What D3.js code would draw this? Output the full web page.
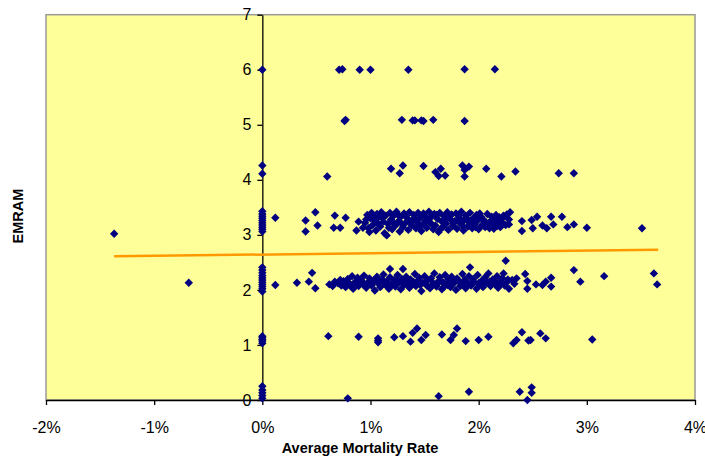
<!DOCTYPE html>
<html>
<head>
<meta charset="utf-8">
<script src="https://cdn.jsdelivr.net/npm/d3@7"></script>
<style>
  body { margin: 0; background: #fff; }
  text { font-family: "Liberation Sans", Arial, sans-serif; }
</style>
</head>
<body>
<div id="chart"></div>
<script>
// x = average mortality rate (%), y = EMRAM stage (jittered)
let zeroRate = [0.03,0.08,0.13,0.18,0.25,1.03,1.07,1.10,1.13,1.16,
    1.97,2.02,2.06,2.10,2.14,2.18,2.22,2.26,2.31,2.36,2.41,
    3.06,3.10,3.14,3.18,3.22,3.26,3.30,3.34,3.38,3.43,4.11,4.26,6.00];

let stage0 = [[0.79,0.03],[1.63,0.07],[1.91,0.15],[2.38,0.15],[2.45,0.00],[2.49,0.23],[2.49,0.13]];

let stage1 = [[0.61,1.16],[0.89,1.15],[1.07,1.12],[1.07,1.08],[1.07,1.05],[1.22,1.14],[1.30,1.16],
    [1.37,1.06],[1.39,1.22],[1.43,1.30],[1.47,1.09],[1.51,1.18],[1.66,1.19],[1.74,1.09],[1.77,1.18],
    [1.80,1.30],[1.88,1.07],[2.00,1.09],[2.09,1.15],[2.32,1.03],[2.35,1.09],[2.40,1.23],[2.46,1.08],
    [2.48,1.09],[2.57,1.21],[2.62,1.12],[3.05,1.10]];

let stage2 = [[-0.68,2.13],[0.12,2.09],[0.32,2.13],[0.43,2.15],[0.46,2.31],[0.49,2.03],[0.62,2.10],
    [0.67,2.15],[0.65,2.07],[1.18,2.38],[1.30,2.38],[1.92,2.41],[2.25,2.53],[2.23,2.30],[2.43,2.29],
    [2.45,2.16],[2.45,2.02],[2.35,2.21],[2.53,2.10],[2.59,2.09],[2.62,2.15],[2.67,2.22],[2.67,2.06],
    [2.88,2.36],[2.94,2.15],[3.16,2.25],[3.62,2.30],[3.65,2.10],
    [0.70,2.12],[0.73,2.08],[0.75,2.16],[0.77,2.05],[0.79,2.20],[0.81,2.11],[0.83,2.25],[0.84,2.02],
    [0.86,2.15],[0.88,2.22],[0.89,2.07],[0.91,2.18],[0.93,2.10],[0.94,2.26],[0.96,2.04],[0.98,2.14],
    [0.99,2.21],[1.01,2.08],[1.03,2.17],[1.04,1.99],[1.06,2.24],[1.07,2.12],[1.09,2.05],[1.11,2.19],
    [1.12,2.28],[1.14,2.09],[1.15,2.15],[1.17,2.02],[1.18,2.23],[1.20,2.11],[1.22,2.18],[1.23,2.06],
    [1.25,2.27],[1.26,2.13],[1.28,2.01],[1.29,2.20],[1.31,2.09],[1.33,2.24],[1.34,2.15],[1.36,2.04],
    [1.37,2.19],[1.39,2.10],[1.41,2.29],[1.42,2.07],[1.44,2.17],[1.45,2.22],[1.47,1.98],[1.48,2.13],
    [1.50,2.25],[1.52,2.08],[1.53,2.18],[1.55,2.03],[1.56,2.21],[1.58,2.12],[1.59,2.30],[1.61,2.06],
    [1.63,2.16],[1.64,2.23],[1.66,2.01],[1.67,2.14],[1.69,2.27],[1.71,2.09],[1.72,2.19],[1.74,2.05],
    [1.75,2.24],[1.77,2.12],[1.79,2.00],[1.80,2.21],[1.82,2.15],[1.83,2.07],[1.85,2.29],[1.87,2.18],
    [1.88,2.03],[1.90,2.12],[1.91,2.25],[1.93,2.08],[1.95,2.20],[1.96,2.14],[1.98,2.02],[1.99,2.27],
    [2.01,2.10],[2.03,2.17],[2.04,2.05],[2.06,2.23],[2.08,2.13],[2.09,2.30],[2.11,2.07],[2.13,2.19],
    [2.15,2.10],[2.17,2.25],[2.18,2.04],[2.20,2.16],[2.22,2.21],[2.24,2.08],[2.26,2.14],[2.28,2.02],
    [2.31,2.18],[2.33,2.11],
    [0.72,2.18],[0.78,2.13],[0.82,2.06],[0.87,2.11],[0.92,2.16],[0.97,2.09],[1.02,2.13],[1.08,2.16],
    [1.13,2.12],[1.19,2.07],[1.24,2.16],[1.30,2.14],[1.35,2.10],[1.40,2.14],[1.46,2.09],[1.51,2.15],
    [1.57,2.08],[1.62,2.11],[1.68,2.06],[1.73,2.14],[1.78,2.17],[1.84,2.11],[1.89,2.08],[1.94,2.15],
    [2.00,2.12],[2.05,2.10],[2.10,2.15],[2.16,2.13],[2.21,2.11],[2.27,2.19]];

let stage3 = [[-1.37,3.02],[0.12,3.31],[0.40,3.26],[0.49,3.41],[0.40,3.06],[0.51,3.17],[0.67,3.35],
    [0.77,3.31],[0.66,3.13],[0.72,3.13],[0.89,3.24],[0.87,3.08],[0.93,3.13],[2.29,3.41],[2.28,3.19],
    [2.40,3.25],[2.40,3.07],[2.49,3.27],[2.50,3.12],[2.54,3.33],[2.59,3.17],[2.63,3.12],[2.67,3.33],
    [2.69,3.19],[2.77,3.33],[2.82,3.14],[2.88,3.19],[3.00,3.13],[3.51,3.12],
    [0.95,3.22],[0.97,3.36],[0.98,3.12],[1.00,3.30],[1.01,3.40],[1.02,3.18],[1.04,3.26],[1.05,3.08],
    [1.06,3.38],[1.08,3.33],[1.09,3.15],[1.10,3.41],[1.12,3.24],[1.13,3.03],[1.14,3.35],[1.15,2.99],
    [1.16,3.20],[1.18,3.40],[1.19,3.28],[1.20,3.10],[1.22,3.36],[1.23,3.17],[1.24,3.42],[1.26,3.25],
    [1.27,3.06],[1.28,3.33],[1.30,3.14],[1.31,3.39],[1.32,3.21],[1.34,3.30],[1.35,3.09],[1.36,3.41],
    [1.38,3.18],[1.39,3.27],[1.40,3.36],[1.42,3.12],[1.43,3.23],[1.44,3.40],[1.46,3.31],[1.47,3.07],
    [1.48,3.19],[1.50,3.35],[1.51,3.26],[1.52,3.13],[1.54,3.42],[1.55,3.22],[1.56,3.32],[1.58,3.10],
    [1.59,3.38],[1.60,3.17],[1.62,3.29],[1.63,3.05],[1.64,3.40],[1.66,3.24],[1.67,3.14],[1.68,3.34],
    [1.70,3.20],[1.71,3.41],[1.72,3.09],[1.74,3.28],[1.75,3.37],[1.76,3.16],[1.78,3.25],[1.79,3.39],
    [1.80,3.11],[1.82,3.31],[1.83,3.21],[1.84,3.42],[1.86,3.08],[1.87,3.27],[1.88,3.35],[1.90,3.15],
    [1.91,3.23],[1.92,3.40],[1.94,3.12],[1.95,3.30],[1.96,3.19],[1.98,3.36],[1.99,3.26],[2.00,3.10],
    [2.02,3.33],[2.03,3.18],[2.04,3.28],[2.06,3.14],[2.07,3.22],[2.08,3.38],[2.10,3.12],[2.11,3.25],
    [2.13,3.20],[2.15,3.29],[2.17,3.16],[2.19,3.32],[2.21,3.24],[2.23,3.35],[2.25,3.18],[2.26,3.37],
    [2.28,3.28],
    [0.96,3.28],[0.99,3.05],[1.03,3.34],[1.07,3.20],[1.11,3.31],[1.17,3.13],[1.21,3.22],[1.25,3.37],
    [1.29,3.20],[1.33,3.35],[1.37,3.24],[1.41,3.30],[1.45,3.16],[1.49,3.39],[1.53,3.28],[1.57,3.19],
    [1.61,3.36],[1.65,3.11],[1.69,3.26],[1.73,3.33],[1.77,3.21],[1.81,3.36],[1.85,3.17],[1.89,3.30],
    [1.93,3.25],[1.97,3.14],[2.01,3.39],[2.05,3.26],[2.09,3.19],[2.12,3.33],[2.14,3.11],[2.16,3.36],
    [2.18,3.22],[2.20,3.14],[2.22,3.30]];

let stage4 = [[0.60,4.06],[1.19,4.20],[1.27,4.12],[1.30,4.26],[1.49,4.25],[1.60,4.14],[1.63,4.07],
    [1.65,4.20],[1.69,4.08],[1.85,4.26],[1.87,4.18],[1.87,4.06],[1.91,4.24],[2.07,4.20],[2.21,4.06],
    [2.34,4.15],[2.74,4.12],[2.88,4.12]];

let stage5 = [[0.76,5.07],[0.77,5.09],[1.29,5.09],[1.39,5.08],[1.41,5.08],[1.47,5.08],[1.49,5.07],
    [1.58,5.09],[1.87,5.07]];

let stage6 = [[0.71,6.00],[0.74,6.01],[0.90,6.00],[1.00,6.00],[1.35,6.00],[1.87,6.01],[2.15,6.01]];

// linear trend line end points
let trendX = [-1.37, 3.66];
let trendY = [2.61, 2.73];

let xTicks = [-2, -1, 0, 1, 2, 3, 4];
let yTicks = [0, 1, 2, 3, 4, 5, 6, 7];

let points = zeroRate.map(v => [0, v])
    .concat(stage0, stage1, stage2, stage3, stage4, stage5, stage6);

let width = 705, height = 460;
let margin = {top: 14.7, right: 10, bottom: 60, left: 46};

let svg = d3.select("#chart").append("svg")
    .attr("width", width)
    .attr("height", height);

let x = d3.scaleLinear().domain([-2, 4]).range([margin.left, width - margin.right]);
let y = d3.scaleLinear().domain([0, 7]).range([height - margin.bottom, margin.top]);

// plot area
svg.append("rect")
    .attr("x", x(-2))
    .attr("y", y(7))
    .attr("width", x(4) - x(-2))
    .attr("height", y(0) - y(7))
    .attr("fill", "#FFFF99")
    .attr("stroke", "#999")
    .attr("stroke-width", 1.5);

// x axis along the bottom
let xAxis = svg.append("g")
    .attr("transform", "translate(0," + y(0) + ")")
    .call(d3.axisBottom(x).tickValues(xTicks).tickFormat(d => d + "%")
        .tickSize(5).tickSizeOuter(0).tickPadding(17));

// y axis through zero
let yAxis = svg.append("g")
    .attr("transform", "translate(" + x(0) + ",0)")
    .call(d3.axisLeft(y).tickValues(yTicks).tickFormat(d3.format("d"))
        .tickSize(5).tickSizeOuter(0).tickPadding(6));

[xAxis, yAxis].forEach(g => {
    g.selectAll("path, line").attr("stroke", "#000").attr("stroke-width", 1.3);
    g.selectAll("text").attr("font-size", 16).attr("fill", "#000")
        .attr("font-family", "'Liberation Sans', Arial, sans-serif");
});

// data points as diamonds
let r = 4.2;
svg.append("g").selectAll("path")
    .data(points)
    .join("path")
    .attr("transform", d => "translate(" + x(d[0]) + "," + y(d[1]) + ")")
    .attr("d", "M0," + (-r) + "L" + r + ",0L0," + r + "L" + (-r) + ",0Z")
    .attr("fill", "#000080");

// trend line
let line = d3.line()
    .x(d => x(d[0]))
    .y(d => y(d[1]));

svg.append("path")
    .datum(trendX.map((v, i) => [v, trendY[i]]))
    .attr("d", line)
    .attr("fill", "none")
    .attr("stroke", "#FF9900")
    .attr("stroke-width", 2.5);

// axis titles
svg.append("text")
    .attr("x", 360)
    .attr("y", 453)
    .attr("text-anchor", "middle")
    .attr("font-size", 14.5)
    .attr("font-weight", "bold")
    .text("Average Mortality Rate");

svg.append("text")
    .attr("transform", "translate(23," + 216 + ") rotate(-90)")
    .attr("text-anchor", "middle")
    .attr("font-size", 14.5)
    .attr("font-weight", "bold")
    .text("EMRAM");
</script>
</body>
</html>
